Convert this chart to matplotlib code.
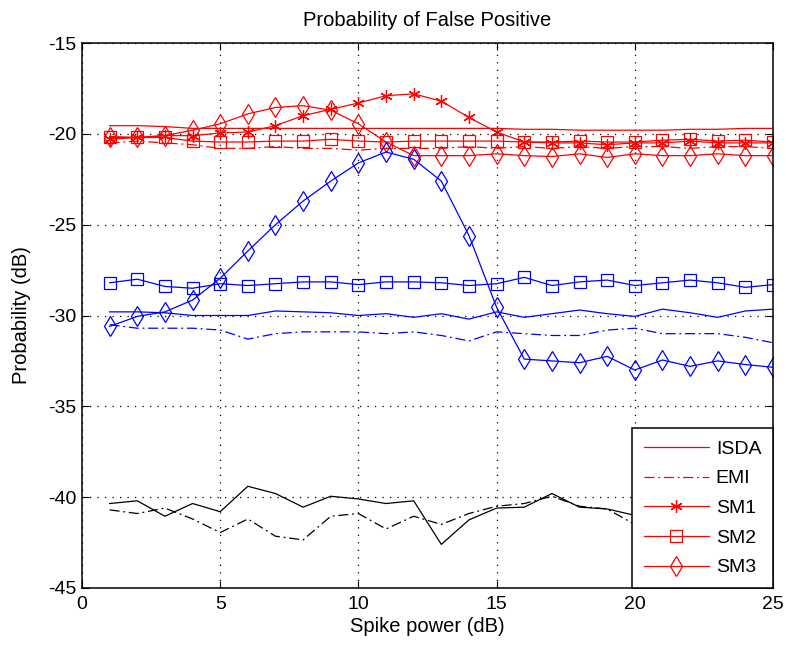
import matplotlib
matplotlib.use("Agg")
import matplotlib.pyplot as plt
import numpy as np

plt.rcParams['font.family'] = ['Liberation Sans', 'DejaVu Sans']
plt.rcParams['axes.unicode_minus'] = False

x = list(range(1, 26))

red_isda = [-19.55, -19.55, -19.6, -19.7, -19.7, -19.7, -19.7, -19.7, -19.7, -19.7, -19.7, -19.7, -19.7,
            -19.7, -19.7, -19.75, -19.75, -19.8, -19.8, -19.8, -19.8, -19.75, -19.75, -19.7, -19.7]
red_emi = [-20.5, -20.4, -20.5, -20.6, -20.8, -20.8, -20.7, -20.8, -20.8, -20.9, -20.8, -20.8, -20.8,
           -20.7, -20.8, -20.7, -20.8, -20.7, -20.8, -20.7, -20.7, -20.8, -20.7, -20.7, -20.8]
red_sm1 = [-20.3, -20.2, -20.1, -20.1, -19.95, -19.9, -19.55, -19.0, -18.65, -18.3, -17.9, -17.8, -18.2,
           -19.1, -19.9, -20.45, -20.5, -20.5, -20.6, -20.5, -20.5, -20.4, -20.5, -20.5, -20.5]
red_sm2 = [-20.15, -20.2, -20.2, -20.4, -20.45, -20.45, -20.4, -20.4, -20.3, -20.4, -20.45, -20.4, -20.4,
           -20.4, -20.4, -20.45, -20.45, -20.4, -20.45, -20.45, -20.35, -20.3, -20.4, -20.35, -20.45]
red_sm3 = [-20.2, -20.2, -20.1, -19.8, -19.45, -18.9, -18.55, -18.45, -18.7, -19.45, -20.45, -21.2, -21.2,
           -21.2, -21.1, -21.2, -21.25, -21.1, -21.3, -21.1, -21.2, -21.2, -21.1, -21.2, -21.2]

blue_isda = [-29.8, -29.8, -29.85, -30.0, -30.0, -30.0, -29.75, -29.8, -29.85, -30.0, -29.9, -30.1, -29.9,
             -30.2, -29.8, -30.1, -29.9, -29.7, -29.9, -30.05, -29.65, -29.85, -30.1, -29.75, -29.65]
blue_emi = [-30.5, -30.7, -30.7, -30.7, -30.8, -31.3, -31.0, -30.9, -30.9, -30.9, -31.0, -30.9, -31.1,
            -31.4, -30.9, -31.0, -31.1, -31.1, -30.8, -30.7, -31.0, -31.0, -31.0, -31.2, -31.5]
blue_sm2 = [-28.2, -28.0, -28.4, -28.5, -28.25, -28.35, -28.25, -28.15, -28.15, -28.3, -28.15, -28.15, -28.2,
            -28.35, -28.25, -27.9, -28.35, -28.15, -28.05, -28.35, -28.2, -28.05, -28.2, -28.45, -28.3]
blue_sm3 = [-30.6, -30.05, -29.8, -29.15, -27.95, -26.45, -25.0, -23.7, -22.6, -21.6, -21.0, -21.4, -22.6,
            -25.6, -29.55, -32.4, -32.5, -32.6, -32.25, -33.0, -32.45, -32.8, -32.5, -32.7, -32.85]

black_isda = [-40.35, -40.2, -41.05, -40.35, -40.8, -39.4, -39.8, -40.55, -39.95, -40.1, -40.35, -40.2, -42.6,
              -41.25, -40.6, -40.55, -39.8, -40.55, -40.65, -41.0, -41.1, -41.0, -41.2, -41.1, -41.0]
black_emi = [-40.7, -40.9, -40.6, -41.2, -41.95, -41.2, -42.15, -42.35, -41.05, -40.9, -41.75, -41.05, -41.5,
             -40.9, -40.5, -40.35, -39.95, -40.5, -40.65, -41.5, -41.3, -41.2, -41.4, -41.3, -41.2]

legend_labels = ['ISDA', 'EMI', 'SM1', 'SM2', 'SM3']
title = 'Probability of False Positive'
xlabel = 'Spike power (dB)'
ylabel = 'Probability (dB)'
xticks = [0, 5, 10, 15, 20, 25]
yticks = [-45, -40, -35, -30, -25, -20, -15]

fig = plt.figure(figsize=(7.86, 6.5), dpi=100)
ax = fig.add_axes([82/786, 62/650, 691/786, 545/650])

lw = 0.9
ms_sq = 8.5
ms_di = 10
ms_st = 9
star = (6, 2, 0)

def draw(col, isda, emi, sm1, sm2, sm3, labels=False):
    lab = legend_labels if labels else [None] * 5
    if isda is not None:
        ax.plot(x, isda, '-', color=col, lw=lw, label=lab[0])
    if emi is not None:
        ax.plot(x, emi, linestyle=(0, (8, 3, 1.5, 3)), color=col, lw=lw, label=lab[1])
    if sm1 is not None:
        ax.plot(x, sm1, '-', color=col, lw=lw, marker=star, ms=ms_st, mew=lw, label=lab[2])
    if sm2 is not None:
        ax.plot(x, sm2, '-', color=col, lw=lw, marker='s', ms=ms_sq, mfc='none', mew=lw, label=lab[3])
    if sm3 is not None:
        ax.plot(x, sm3, '-', color=col, lw=lw, marker='d', ms=ms_di, mfc='none', mew=lw, label=lab[4])

draw('#ff0000', red_isda, red_emi, red_sm1, red_sm2, red_sm3, labels=True)
draw('#0000ff', blue_isda, blue_emi, None, blue_sm2, blue_sm3)
draw('#000000', black_isda, black_emi, None, None, None)

ax.set_xlim(0, 25)
ax.set_ylim(-45, -15)
ax.set_xticks(xticks)
ax.set_yticks(yticks)
ax.set_xticklabels([str(v) for v in xticks])
ax.set_yticklabels([str(v) for v in yticks])
ax.grid(True, color='black', linestyle=(0, (1, 5)), linewidth=0.9)
ax.tick_params(direction='in', labelsize=14, length=5, top=True, right=True, pad=4)
ax.tick_params(axis='x', pad=6)
for s in ax.spines.values():
    s.set_linewidth(1.1)
ax.set_title(title, fontsize=14.5, pad=12)
ax.set_xlabel(xlabel, fontsize=14.5, labelpad=3)
ax.set_ylabel(ylabel, fontsize=14.5, labelpad=12)

leg = ax.legend(loc='lower right', borderaxespad=0, fancybox=False, edgecolor='black',
                framealpha=1, fontsize=14, handlelength=3.35, labelspacing=0.62,
                borderpad=0.6, handletextpad=0.35)
leg.get_frame().set_linewidth(1.1)

fig.savefig('out.png', dpi=100)
